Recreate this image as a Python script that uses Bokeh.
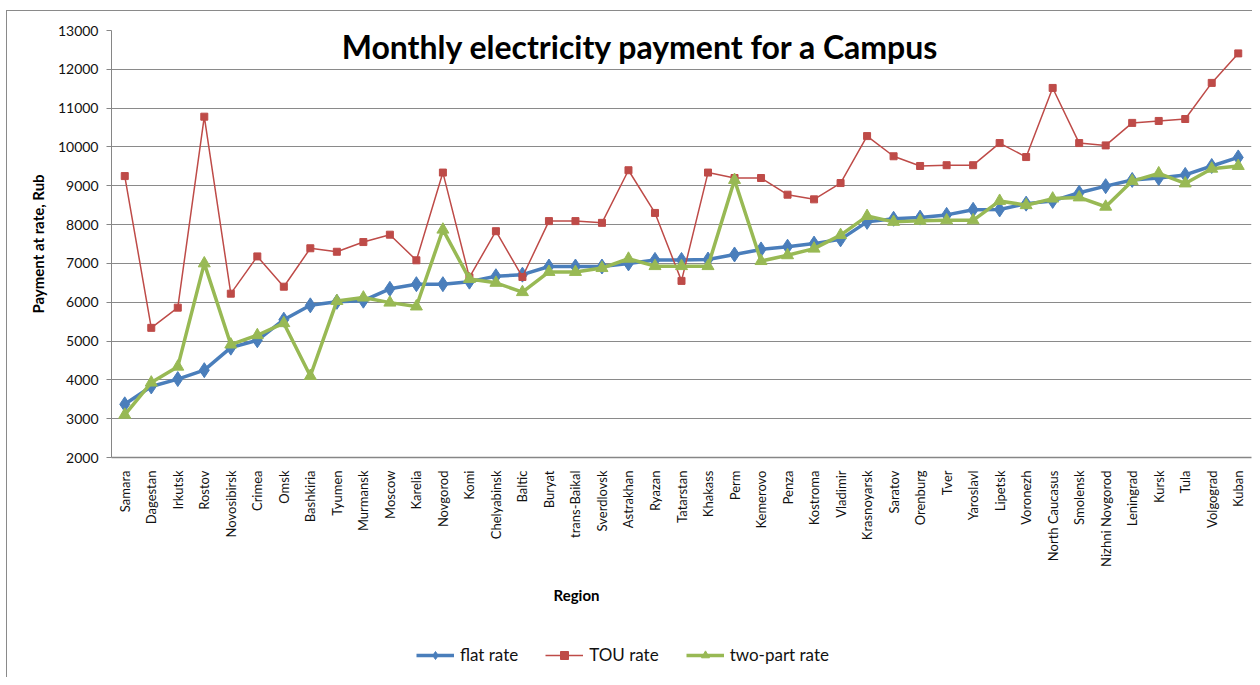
import math
from bokeh.plotting import figure
from bokeh.layouts import column
from bokeh.models import (FactorRange, Range1d, Label, Legend, LegendItem, SingleIntervalTicker,
                          NumeralTickFormatter, Title)
from bokeh.embed import file_html
from bokeh.resources import INLINE

regions = ["Samara", "Dagestan", "Irkutsk", "Rostov", "Novosibirsk", "Crimea", "Omsk",
           "Bashkiria", "Tyumen", "Murmansk", "Moscow", "Karelia", "Novgorod", "Komi",
           "Chelyabinsk", "Baltic", "Buryat", "trans-Baikal", "Sverdlovsk", "Astrakhan",
           "Ryazan", "Tatarstan", "Khakass", "Perm", "Kemerovo", "Penza", "Kostroma",
           "Vladimir", "Krasnoyarsk", "Saratov", "Orenburg", "Tver", "Yaroslavl", "Lipetsk",
           "Voronezh", "North Caucasus", "Smolensk", "Nizhni Novgorod", "Leningrad", "Kursk",
           "Tula", "Volgograd", "Kuban"]

flat_rate = [3370, 3830, 4020, 4250, 4830, 5020, 5550, 5920, 6010, 6040, 6345, 6465,
             6465, 6530, 6670, 6710, 6920, 6920, 6920, 7000, 7090, 7090, 7100, 7230,
             7360, 7430, 7510, 7620, 8070, 8150, 8180, 8250, 8380, 8390, 8540, 8610,
             8820, 8990, 9150, 9200, 9280, 9510, 9730]

tou_rate = [9250, 5340, 5860, 10780, 6220, 7180, 6400, 7390, 7300, 7550, 7740, 7080,
            9340, 6640, 7830, 6650, 8090, 8090, 8045, 9400, 8300, 6550, 9340, 9200,
            9200, 8770, 8650, 9070, 10280, 9760, 9510, 9530, 9530, 10100, 9740, 11520,
            10100, 10040, 10620, 10670, 10720, 11650, 12410]

two_part_rate = [3100, 3930, 4340, 7000, 4910, 5150, 5460, 4100, 6030, 6120, 5990, 5890,
                 7870, 6600, 6500, 6260, 6780, 6780, 6880, 7120, 6930, 6930, 6930, 9150,
                 7060, 7210, 7380, 7730, 8220, 8070, 8100, 8110, 8110, 8610, 8500, 8670,
                 8700, 8460, 9120, 9320, 9060, 9440, 9510]

series_names = ["flat rate", "TOU rate", "two-part rate"]

FONT = "Lato"
BLUE = "#4A7EBB"
RED = "#BE4B48"
GREEN = "#98B954"
STYLES = [
    dict(color=BLUE, width=3.5, marker="diamond", size=15),
    dict(color=RED, width=1.5, marker="square", size=7),
    dict(color=GREEN, width=3.5, marker="triangle", size=12),
]
SERIES = [flat_rate, tou_rate, two_part_rate]

p = figure(width=1245, height=614, x_range=FactorRange(*regions, range_padding=0),
           y_range=Range1d(2000, 13000), output_backend="svg", toolbar_location=None,
           min_border_left=104, min_border_right=1, min_border_top=19, min_border_bottom=168)

p.outline_line_color = None
p.background_fill_color = "white"

# grid
p.xgrid.grid_line_color = None
p.ygrid.grid_line_color = "#8a8a8a"
p.ygrid.grid_line_width = 1.2

# y axis
p.yaxis.ticker = SingleIntervalTicker(interval=1000)
p.yaxis.formatter = NumeralTickFormatter(format="0")
p.yaxis.axis_line_color = "#868686"
p.yaxis.major_tick_line_color = "#868686"
p.yaxis.major_tick_out = 5
p.yaxis.major_tick_in = 0
p.yaxis.minor_tick_line_color = None
p.yaxis.major_label_text_font = FONT
p.yaxis.major_label_text_font_size = "14px"
p.yaxis.major_label_text_color = "#111111"
p.yaxis.major_label_standoff = 8
p.yaxis.axis_label = "Payment at rate, Rub"
p.yaxis.axis_label_text_font = FONT
p.yaxis.axis_label_text_font_style = "bold"
p.yaxis.axis_label_text_font_size = "15px"
p.yaxis.axis_label_text_color = "#000000"
p.yaxis.axis_label_standoff = 8

# x axis
p.xaxis.axis_line_color = "#868686"
p.xaxis.axis_line_width = 1.5
p.xaxis.major_tick_line_color = None
p.xaxis.minor_tick_line_color = None
p.xaxis.major_label_orientation = math.pi / 2
p.xaxis.major_label_text_font = FONT
p.xaxis.major_label_text_font_size = "13px"
p.xaxis.major_label_text_color = "#111111"
p.xaxis.major_label_standoff = 7

for vals, st in zip(SERIES, STYLES):
    p.line(regions, vals, line_color=st["color"], line_width=st["width"])
    p.scatter(regions, vals, marker=st["marker"], size=st["size"],
              fill_color=st["color"], line_color=st["color"])

xtitle = Title(text="Region", align="left", offset=442, standoff=29,
               text_font=FONT, text_font_style="bold", text_font_size="15px", text_color="#000000")
p.add_layout(xtitle, "below")

title = Label(x=19.96, y=12580, text="Monthly electricity payment for a Campus",
              text_align="center", text_baseline="middle", text_font=FONT,
              text_font_style="bold", text_font_size="32px", text_color="#000000")
p.add_layout(title)

# legend strip: same series, y range keeps the marks out of view; only the legend shows
pl = figure(width=1245, height=52, x_range=p.x_range, y_range=Range1d(0, 1),
            output_backend="svg", toolbar_location=None, x_axis_type=None, y_axis_type=None,
            min_border=0, min_border_left=0, min_border_right=0, min_border_top=0, min_border_bottom=0)
pl.outline_line_color = None
pl.xgrid.grid_line_color = None
pl.ygrid.grid_line_color = None

items = []
for name, vals, st in zip(series_names, SERIES, STYLES):
    rl = pl.line(regions, vals, line_color=st["color"], line_width=st["width"])
    rs = pl.scatter(regions, vals, marker=st["marker"], size=st["size"],
                    fill_color=st["color"], line_color=st["color"])
    items.append(LegendItem(label=name, renderers=[rl, rs]))

legend = Legend(items=items, orientation="horizontal", location=(305, 12),
                border_line_color=None, background_fill_alpha=0,
                label_text_font=FONT, label_text_font_size="17px", label_text_color="#111111",
                glyph_width=38, label_standoff=6, spacing=27, padding=4, margin=0)
pl.add_layout(legend, "center")

layout = column(p, pl, spacing=0, margin=(10, 0, 0, 6),
                styles={"border-left": "1px solid #8a8a8a", "border-top": "1px solid #8a8a8a"})
open("out.html", "w").write(file_html(layout, INLINE))
